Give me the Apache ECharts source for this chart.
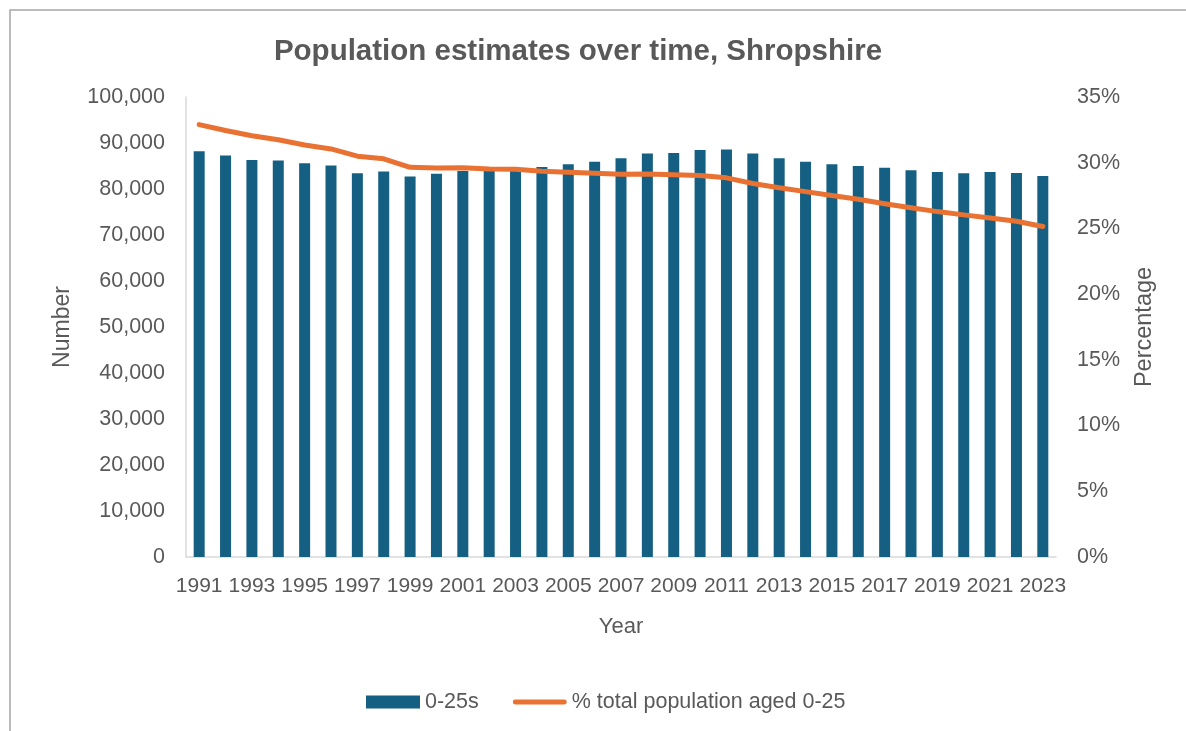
<!DOCTYPE html>
<html>
<head>
<meta charset="utf-8">
<title>Population estimates over time, Shropshire</title>
<script src="https://cdn.jsdelivr.net/npm/echarts@6/dist/echarts.min.js"></script>
<style>
  html, body { margin: 0; padding: 0; background: #ffffff; }
  #chart { width: 1186px; height: 731px; }
</style>
</head>
<body>
<div id="chart"></div>
<script>
// Years shown on the category axis
const years = ['1991','1992','1993','1994','1995','1996','1997','1998','1999','2000',
  '2001','2002','2003','2004','2005','2006','2007','2008','2009','2010',
  '2011','2012','2013','2014','2015','2016','2017','2018','2019','2020',
  '2021','2022','2023'];

// Number of residents aged 0-25
const population0to25 = [88200, 87300, 86300, 86200, 85600, 85100, 83400, 83800, 82700, 83300,
  83900, 83900, 84000, 84800, 85400, 85900, 86700, 87700, 87800, 88500,
  88600, 87700, 86700, 85900, 85400, 85000, 84600, 84100, 83700, 83400,
  83700, 83500, 82800];

// Share of the total population aged 0-25 (%)
const percentAged0to25 = [32.9, 32.45, 32.05, 31.75, 31.35, 31.05, 30.5, 30.3, 29.65, 29.6,
  29.62, 29.52, 29.5, 29.35, 29.28, 29.2, 29.12, 29.15, 29.08, 29.02,
  28.85, 28.42, 28.1, 27.8, 27.5, 27.22, 26.88, 26.58, 26.28, 26.03,
  25.8, 25.55, 25.15];

// Axis ranges and series names
const numberAxis = { min: 0, max: 100000, interval: 10000 };
const percentAxis = { min: 0, max: 35, interval: 5 };
const seriesNames = ['0-25s', '% total population aged 0-25'];

const textGrey = '#595959';
const fontFamily = '"Liberation Sans", Arial, sans-serif';

// Legend swatch for the line series: a short bar with rounded ends
const lineSwatch = 'path://M4.5,0 H95.5 A4.5,4.5 0 0 1 95.5,9 H4.5 A4.5,4.5 0 0 1 4.5,0 Z';

const chart = echarts.init(document.getElementById('chart'), null, { renderer: 'canvas' });

chart.setOption({
  animation: false,
  backgroundColor: '#ffffff',
  textStyle: { fontFamily: fontFamily, color: textGrey },
  title: {
    text: 'Population estimates over time, Shropshire',
    left: 573,
    top: 32,
    textAlign: 'center',
    textStyle: { fontFamily: fontFamily, fontSize: 29.5, fontWeight: 'bold', color: textGrey }
  },
  graphic: [{
    type: 'rect',
    x: 10,
    y: 10,
    shape: { x: 0, y: 0, width: 1200, height: 800 },
    style: { fill: 'none', stroke: '#a6a6a6', lineWidth: 1.5 },
    silent: true,
    z: -1
  }],
  legend: {
    left: 361,
    top: 686,
    itemGap: 34,
    itemWidth: 54,
    itemHeight: 13,
    textStyle: { fontFamily: fontFamily, fontSize: 21.5, color: textGrey },
    data: [
      { name: seriesNames[0], icon: 'rect' },
      { name: seriesNames[1], icon: lineSwatch, itemStyle: { color: '#E97132' } }
    ]
  },
  grid: { left: 186, right: 130, top: 97, bottom: 174, containLabel: false },
  xAxis: {
    type: 'category',
    data: years,
    name: 'Year',
    nameLocation: 'middle',
    nameGap: 59,
    nameTextStyle: { fontSize: 22, color: textGrey },
    axisLine: { show: true, lineStyle: { color: '#d9d9d9', width: 1.5 } },
    axisTick: { show: false },
    axisLabel: { interval: 1, fontSize: 21, color: textGrey, margin: 19 }
  },
  yAxis: [{
    type: 'value',
    min: numberAxis.min,
    max: numberAxis.max,
    interval: numberAxis.interval,
    name: 'Number',
    nameLocation: 'middle',
    nameGap: 112,
    nameTextStyle: { fontSize: 23, color: textGrey },
    axisLine: { show: true, lineStyle: { color: '#d9d9d9', width: 1.5 } },
    axisTick: { show: false },
    splitLine: { show: false },
    axisLabel: {
      fontSize: 21.5, color: textGrey, margin: 21,
      formatter: v => v.toLocaleString('en-GB')
    }
  }, {
    type: 'value',
    position: 'right',
    min: percentAxis.min,
    max: percentAxis.max,
    interval: percentAxis.interval,
    name: 'Percentage',
    nameLocation: 'middle',
    nameGap: 77,
    nameTextStyle: { fontSize: 23.5, color: textGrey },
    axisLine: { show: false },
    axisTick: { show: false },
    splitLine: { show: false },
    axisLabel: { fontSize: 21.5, color: textGrey, margin: 21, formatter: '{value}%' }
  }],
  series: [{
    name: seriesNames[0],
    type: 'bar',
    yAxisIndex: 0,
    data: population0to25,
    barWidth: 11,
    itemStyle: { color: '#156082' }
  }, {
    name: seriesNames[1],
    type: 'line',
    yAxisIndex: 1,
    data: percentAged0to25,
    symbol: 'none',
    showSymbol: false,
    lineStyle: { color: '#E97132', width: 5, cap: 'round', join: 'round' },
    itemStyle: { color: '#E97132' },
    z: 3
  }]
});
</script>
</body>
</html>
